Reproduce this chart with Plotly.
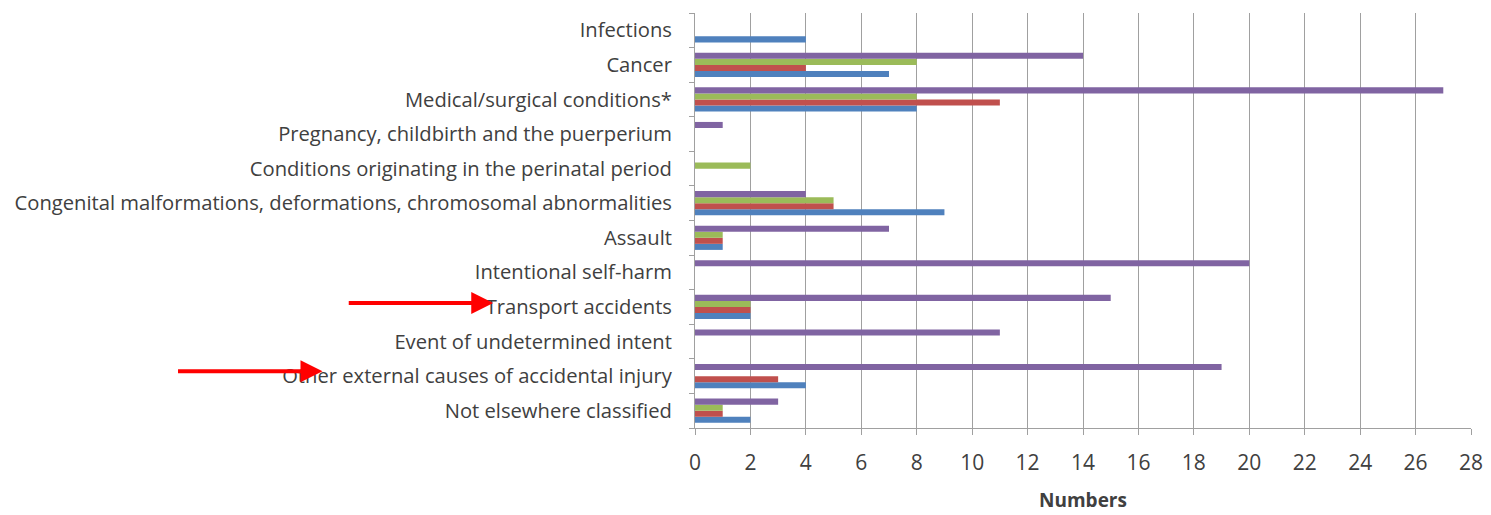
import plotly.graph_objects as go

# categories listed bottom -> top (axis reads upward)
categories = [
    "Not elsewhere classified",
    "Other external causes of accidental injury",
    "Event of undetermined intent",
    "Transport accidents",
    "Intentional self-harm",
    "Assault",
    "Congenital malformations, deformations, chromosomal abnormalities",
    "Conditions originating in the perinatal period",
    "Pregnancy, childbirth and the puerperium",
    "Medical/surgical conditions*",
    "Cancer",
    "Infections",
]

blue_vals   = [2, 4, 0, 2, 0, 1, 9, 0, 0, 8, 7, 4]
red_vals    = [1, 3, 0, 2, 0, 1, 5, 0, 0, 11, 4, 0]
green_vals  = [1, 0, 0, 2, 0, 1, 5, 2, 0, 8, 8, 0]
purple_vals = [3, 19, 11, 15, 20, 7, 4, 0, 1, 27, 14, 0]

x_ticks = list(range(0, 29, 2))

series = [
    ("Series 1", blue_vals, "#4F81BD"),
    ("Series 2", red_vals, "#C0504D"),
    ("Series 3", green_vals, "#9BBB59"),
    ("Series 4", purple_vals, "#8064A2"),
]

fig = go.Figure()
for name, vals, col in series:
    fig.add_trace(go.Bar(
        y=categories, x=vals, name=name, orientation="h",
        marker=dict(color=col, line=dict(width=0)),
    ))

fig.update_layout(
    width=1491, height=515,
    barmode="group", bargap=0.3, bargroupgap=0,
    showlegend=False,
    plot_bgcolor="white", paper_bgcolor="white",
    margin=dict(l=687, r=28, t=5, b=95),
    font=dict(family="Open Sans, Lato, sans-serif", color="#404040", size=20),
)

fig.update_xaxes(
    range=[0, 28], tickvals=x_ticks, automargin=False,
    showgrid=True, gridcolor="#A0A0A0", gridwidth=1,
    showline=True, linecolor="#A0A0A0", linewidth=1,
    ticks="outside", ticklen=6, tickcolor="#A0A0A0",
    tickfont=dict(size=21), ticklabelstandoff=10, zeroline=False,
    title=dict(text="<b>Numbers</b>", font=dict(size=19), standoff=18),
)
fig.update_yaxes(
    categoryorder="array", categoryarray=categories, automargin=False,
    showline=True, linecolor="#A0A0A0", linewidth=1,
    ticks="outside", ticklen=5, tickcolor="#A0A0A0", tickson="boundaries",
    tickfont=dict(size=20.2), ticklabelstandoff=18,
)

# red arrows pointing at two of the labels
fig.add_annotation(
    x=-0.26, y="Transport accidents", xref="paper", yref="y",
    yshift=4, text="", showarrow=True, ax=-146, ay=0,
    arrowcolor="#FF0000", arrowwidth=4, arrowhead=2, arrowsize=1.1,
)
fig.add_annotation(
    x=-0.48, y="Other external causes of accidental injury", xref="paper", yref="y",
    yshift=5, text="", showarrow=True, ax=-146, ay=0,
    arrowcolor="#FF0000", arrowwidth=4, arrowhead=2, arrowsize=1.1,
)

fig.write_html("out.html")
